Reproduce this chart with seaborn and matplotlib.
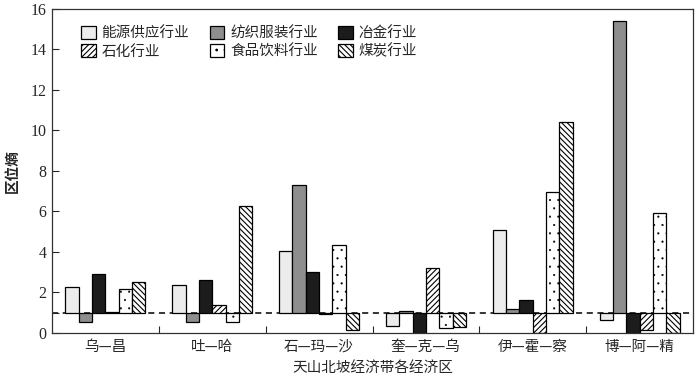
"""
天山北坡经济带各经济区 区位熵 grouped bar chart (bars drawn from baseline 1).
"""

import numpy as np
import pandas as pd
import matplotlib
matplotlib.use("Agg")
import matplotlib.pyplot as plt
import seaborn as sns

# ---------------------------------------------------------------------
# === DATA ============================================================
# ---------------------------------------------------------------------

regions = ["乌—昌", "吐—哈", "石—玛—沙", "奎—克—乌", "伊—霍—察", "博—阿—精"]
industries = ["能源供应行业", "纺织服装行业", "冶金行业", "石化行业", "食品饮料行业", "煤炭行业"]

energy = [2.25, 2.38, 4.03, 0.36, 5.07, 0.66]
textile = [0.52, 0.53, 7.29, 1.10, 1.17, 15.38]
metallurgy = [2.93, 2.63, 2.99, 0.00, 1.64, 0.00]
petrochem = [1.03, 1.37, 0.95, 3.19, 0.00, 0.16]
food = [2.17, 0.53, 4.33, 0.25, 6.94, 5.90]
coal = [2.50, 6.28, 0.16, 0.28, 10.43, 0.00]

baseline = 1.0

fills = ["#ececec", "#8e8e8e", "#1c1c1c", "white", "white", "white"]
hatches = ["", "", "", "//////", "..", "\\\\\\\\\\\\"]
hatch_lw = [0.8, 0.8, 0.8, 0.8, 0.3, 0.8]

# ---------------------------------------------------------------------
# === PLOT ============================================================
# ---------------------------------------------------------------------

sns.set_style("ticks")
plt.rcParams["font.family"] = ["Noto Sans CJK SC", "DejaVu Sans"]
plt.rcParams["hatch.linewidth"] = 0.8

series = [energy, textile, metallurgy, petrochem, food, coal]
df = pd.DataFrame({
    "region": np.repeat([regions], len(industries), axis=0).ravel(),
    "industry": np.repeat(industries, len(regions)),
    "value": np.concatenate(series),
})
df["dev"] = df["value"] - baseline

fig = plt.figure(figsize=(7, 3.76), dpi=100)
ax = fig.add_axes([0.0743, 0.1144, 0.9157, 0.862])

sns.barplot(
    data=df, x="region", y="dev", hue="industry",
    order=regions, hue_order=industries,
    palette=fills, width=0.75, gap=0, bottom=baseline,
    edgecolor="black", linewidth=0.9, saturation=1,
    errorbar=None, legend=False, ax=ax,
)

for cont, h, hlw in zip(ax.containers, hatches, hatch_lw):
    for p in cont.patches:
        p.set_hatch(h)
        if hasattr(p, "set_hatch_linewidth"):
            p.set_hatch_linewidth(hlw)

ax.axhline(baseline, color="black", ls=(0, (4, 3)), lw=1.1, zorder=0.5)

ax.set_ylim(0, 16)
ax.set_xlim(-0.5, len(regions) - 0.5)
ax.set_yticks(range(0, 17, 2))
ax.set_yticklabels([str(v) for v in range(0, 17, 2)], family="Liberation Serif", fontsize=11.5)
ax.set_yticks([baseline], minor=True)
ax.tick_params(axis="y", which="both", direction="in", length=5, width=0.8, pad=4)
ax.tick_params(axis="x", which="major", length=0, labelsize=10.5, pad=5)
ax.set_xticks(np.arange(0.5, len(regions) - 1, 1), minor=True)
ax.tick_params(axis="x", which="minor", direction="in", length=5, width=0.8)

ax.set_xlabel("天山北坡经济带各经济区", fontsize=10.5, labelpad=5)
ax.set_ylabel("区位熵", fontsize=10.5, fontweight="bold")
ax.yaxis.set_label_coords(-0.05, 0.5)

for s in ax.spines.values():
    s.set_visible(True)
    s.set_color("#333333")
    s.set_linewidth(0.9)

# legend fills row-wise in the reference, matplotlib fills column-wise
handles = [c.patches[0] for c in ax.containers]
order = [0, 3, 1, 4, 2, 5]
ax.legend(
    [handles[i] for i in order], [industries[i] for i in order],
    ncol=3, loc="upper left", bbox_to_anchor=(0.025, 0.988),
    frameon=False, fontsize=10.5, handlelength=1.0, handleheight=1.0,
    handletextpad=0.4, columnspacing=1.4, labelspacing=0.25,
)

fig.savefig("out.png", dpi=100)
